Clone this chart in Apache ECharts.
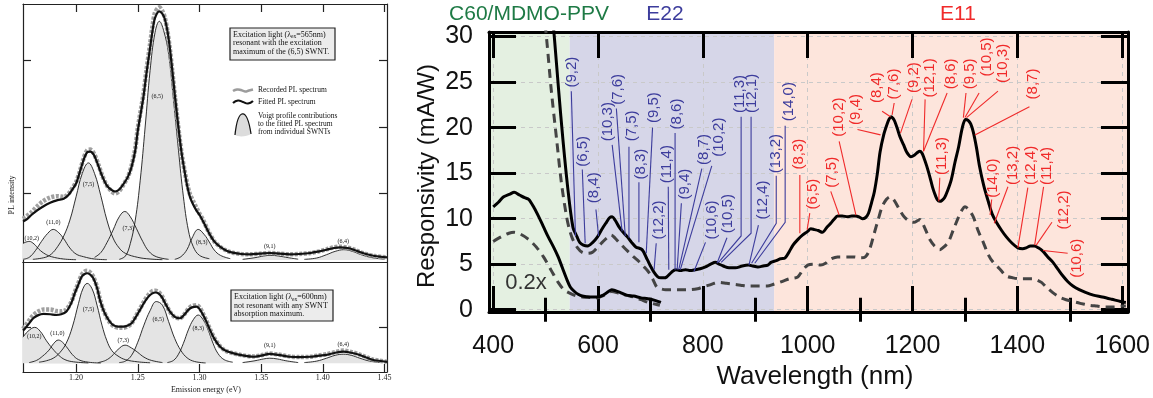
<!DOCTYPE html>
<html><head><meta charset="utf-8">
<script src="https://cdn.jsdelivr.net/npm/echarts@6/dist/echarts.min.js"></script>
<style>html,body{margin:0;padding:0;background:#fff}#c{width:1153px;height:398px}</style>
</head><body><div id="c"></div>
<script>
// ---------------- LEFT PANEL DATA (emission energy eV, PL intensity a.u.) ----------------
const leftTicks = [1.20, 1.25, 1.30, 1.35, 1.40, 1.45];
const compNames = ['(10,2)','(11,0)','(7,5)','(7,3)','(6,5)','(8,3)','(9,1)','(6,4)'];

const fittedTop = [[1.157,0.58],[1.160,0.61],[1.164,0.68],[1.168,0.74],[1.173,0.80],[1.179,0.86],[1.185,0.90],[1.190,0.92],[1.194,0.98],[1.197,1.06],[1.200,1.15],[1.203,1.32],[1.206,1.50],[1.209,1.62],[1.2115,1.63],[1.2145,1.58],[1.218,1.42],[1.221,1.27],[1.225,1.12],[1.229,1.05],[1.2316,1.03],[1.235,1.06],[1.238,1.13],[1.242,1.25],[1.245,1.40],[1.248,1.65],[1.250,1.94],[1.2545,2.44],[1.257,2.80],[1.260,3.19],[1.262,3.45],[1.264,3.64],[1.2675,3.74],[1.270,3.70],[1.272,3.62],[1.274,3.45],[1.276,3.19],[1.278,2.85],[1.280,2.49],[1.282,2.15],[1.284,1.83],[1.286,1.55],[1.288,1.33],[1.290,1.12],[1.2923,0.95],[1.295,0.83],[1.2977,0.74],[1.300,0.68],[1.303,0.58],[1.306,0.47],[1.3085,0.38],[1.312,0.28],[1.3166,0.20],[1.322,0.14],[1.327,0.11],[1.334,0.09],[1.341,0.085],[1.349,0.095],[1.357,0.105],[1.365,0.095],[1.373,0.085],[1.381,0.09],[1.390,0.105],[1.397,0.13],[1.403,0.155],[1.409,0.18],[1.414,0.19],[1.420,0.18],[1.425,0.155],[1.430,0.12],[1.435,0.09],[1.442,0.06],[1.452,0.04]];
const recordedTop = [[1.157,0.62],[1.160,0.66],[1.164,0.72],[1.168,0.80],[1.173,0.88],[1.179,0.94],[1.185,0.96],[1.190,0.95],[1.194,1.0],[1.197,1.08],[1.200,1.17],[1.203,1.33],[1.206,1.52],[1.209,1.65],[1.2115,1.66],[1.2145,1.60],[1.218,1.44],[1.221,1.28],[1.225,1.12],[1.229,1.03],[1.2316,1.00],[1.235,1.04],[1.238,1.12],[1.242,1.25],[1.245,1.42],[1.248,1.68],[1.250,1.98],[1.2545,2.48],[1.257,2.85],[1.260,3.25],[1.262,3.52],[1.264,3.72],[1.2675,3.80],[1.270,3.74],[1.272,3.64],[1.274,3.45],[1.276,3.18],[1.278,2.84],[1.280,2.48],[1.282,2.14],[1.284,1.82],[1.286,1.55],[1.288,1.34],[1.290,1.15],[1.2923,0.99],[1.295,0.88],[1.2977,0.78],[1.300,0.70],[1.303,0.60],[1.306,0.48],[1.3085,0.39],[1.312,0.28],[1.3166,0.20],[1.322,0.14],[1.327,0.11],[1.334,0.09],[1.341,0.085],[1.349,0.095],[1.357,0.105],[1.365,0.095],[1.373,0.085],[1.381,0.09],[1.390,0.105],[1.397,0.13],[1.403,0.16],[1.409,0.19],[1.414,0.20],[1.420,0.185],[1.425,0.16],[1.430,0.12],[1.435,0.09],[1.442,0.06],[1.452,0.04]];

const c102Top = [[1.157,0.25],[1.162,0.28],[1.166,0.24],[1.170,0.16],[1.175,0.09],[1.180,0.05],[1.190,0.015],[1.200,0.005]];
const c110Top = [[1.157,0.01],[1.162,0.04],[1.167,0.14],[1.172,0.28],[1.177,0.40],[1.1815,0.46],[1.186,0.41],[1.190,0.32],[1.195,0.18],[1.200,0.09],[1.206,0.05],[1.215,0.015],[1.225,0.005]];
const c75Top = [[1.165,0.01],[1.175,0.04],[1.180,0.09],[1.185,0.2],[1.190,0.36],[1.195,0.6],[1.200,0.95],[1.205,1.3],[1.210,1.46],[1.215,1.3],[1.220,0.97],[1.225,0.6],[1.230,0.33],[1.235,0.18],[1.240,0.1],[1.250,0.04],[1.260,0.015],[1.270,0.005]];
const c73Top = [[1.215,0.04],[1.220,0.11],[1.225,0.26],[1.230,0.45],[1.235,0.65],[1.2395,0.73],[1.244,0.65],[1.249,0.47],[1.254,0.28],[1.259,0.13],[1.265,0.05],[1.275,0.01]];
const c65Top = [[1.235,0.01],[1.240,0.06],[1.244,0.25],[1.248,0.6],[1.252,1.2],[1.256,2.0],[1.260,2.85],[1.264,3.42],[1.2675,3.59],[1.271,3.45],[1.275,3.1],[1.279,2.4],[1.283,1.65],[1.287,0.95],[1.291,0.45],[1.295,0.2],[1.300,0.07],[1.308,0.02]];
const c83Top = [[1.280,0.01],[1.285,0.05],[1.290,0.16],[1.294,0.33],[1.299,0.46],[1.304,0.38],[1.308,0.27],[1.312,0.15],[1.317,0.07],[1.325,0.02]];
const c91Top = [[1.335,0.01],[1.345,0.035],[1.352,0.06],[1.358,0.07],[1.364,0.06],[1.372,0.035],[1.380,0.012]];
const c64Top = [[1.385,0.01],[1.395,0.03],[1.403,0.08],[1.410,0.13],[1.417,0.155],[1.424,0.13],[1.431,0.08],[1.440,0.035],[1.450,0.012]];

const fittedBottom = [[1.157,0.90],[1.1586,0.96],[1.162,1.10],[1.1653,1.24],[1.169,1.32],[1.1735,1.36],[1.179,1.35],[1.184,1.33],[1.188,1.35],[1.192,1.42],[1.196,1.65],[1.199,1.93],[1.202,2.18],[1.2046,2.39],[1.207,2.46],[1.209,2.48],[1.2115,2.44],[1.214,2.34],[1.217,2.08],[1.2194,1.74],[1.222,1.48],[1.2248,1.28],[1.2275,1.14],[1.2302,1.05],[1.234,1.01],[1.2383,1.01],[1.242,1.04],[1.245,1.10],[1.248,1.25],[1.2518,1.47],[1.255,1.66],[1.2585,1.83],[1.2615,1.92],[1.2645,1.95],[1.267,1.92],[1.2694,1.83],[1.272,1.67],[1.2761,1.42],[1.280,1.28],[1.2842,1.24],[1.288,1.35],[1.291,1.47],[1.294,1.54],[1.2978,1.56],[1.300,1.50],[1.303,1.33],[1.306,1.12],[1.3085,0.92],[1.312,0.68],[1.3166,0.46],[1.321,0.35],[1.327,0.28],[1.335,0.22],[1.3436,0.18],[1.350,0.21],[1.357,0.26],[1.364,0.23],[1.373,0.18],[1.381,0.17],[1.390,0.18],[1.397,0.21],[1.403,0.23],[1.410,0.29],[1.4166,0.32],[1.423,0.29],[1.430,0.23],[1.436,0.15],[1.441,0.09],[1.452,0.04]];
const recordedBottom = [[1.157,0.95],[1.1586,1.02],[1.162,1.18],[1.1653,1.32],[1.169,1.42],[1.1735,1.48],[1.179,1.48],[1.184,1.44],[1.188,1.43],[1.192,1.48],[1.196,1.68],[1.199,1.96],[1.202,2.22],[1.2046,2.44],[1.207,2.53],[1.209,2.55],[1.2115,2.50],[1.214,2.38],[1.217,2.10],[1.2194,1.76],[1.222,1.48],[1.2248,1.27],[1.2275,1.12],[1.2302,1.03],[1.234,0.98],[1.2383,0.98],[1.242,1.02],[1.245,1.10],[1.248,1.27],[1.2518,1.50],[1.255,1.70],[1.2585,1.88],[1.2615,1.98],[1.2645,2.00],[1.267,1.96],[1.2694,1.86],[1.272,1.68],[1.2761,1.42],[1.280,1.27],[1.2842,1.24],[1.288,1.36],[1.291,1.50],[1.294,1.58],[1.2978,1.60],[1.300,1.54],[1.303,1.36],[1.306,1.14],[1.3085,0.94],[1.312,0.70],[1.3166,0.47],[1.321,0.35],[1.327,0.28],[1.335,0.22],[1.3436,0.19],[1.350,0.22],[1.357,0.27],[1.364,0.24],[1.373,0.19],[1.381,0.17],[1.390,0.18],[1.397,0.22],[1.403,0.25],[1.410,0.31],[1.4166,0.35],[1.423,0.31],[1.430,0.24],[1.436,0.16],[1.441,0.10],[1.452,0.04]];

const c102Bot = [[1.157,0.72],[1.161,0.88],[1.1665,0.99],[1.171,0.88],[1.176,0.62],[1.181,0.4],[1.186,0.22],[1.191,0.1],[1.198,0.04],[1.210,0.01]];
const c110Bot = [[1.162,0.02],[1.168,0.08],[1.173,0.2],[1.178,0.36],[1.182,0.55],[1.1856,0.64],[1.189,0.58],[1.193,0.42],[1.197,0.24],[1.202,0.1],[1.210,0.03],[1.220,0.008]];
const c75Bot = [[1.170,0.03],[1.176,0.07],[1.182,0.15],[1.187,0.3],[1.192,0.55],[1.197,1.0],[1.202,1.65],[1.2055,2.05],[1.209,2.2],[1.213,2.05],[1.217,1.6],[1.221,1.05],[1.225,0.62],[1.229,0.35],[1.234,0.2],[1.240,0.1],[1.250,0.04],[1.260,0.015]];
const c73Bot = [[1.218,0.02],[1.224,0.08],[1.229,0.2],[1.234,0.38],[1.2397,0.5],[1.245,0.42],[1.250,0.3],[1.255,0.17],[1.261,0.08],[1.270,0.02]];
const c65Bot = [[1.235,0.02],[1.240,0.06],[1.245,0.22],[1.250,0.58],[1.255,1.05],[1.260,1.45],[1.265,1.7],[1.270,1.6],[1.275,1.15],[1.280,0.68],[1.285,0.35],[1.290,0.15],[1.296,0.05],[1.305,0.01]];
const c83Bot = [[1.274,0.02],[1.279,0.08],[1.283,0.25],[1.287,0.55],[1.291,0.92],[1.295,1.2],[1.299,1.33],[1.303,1.2],[1.307,0.92],[1.311,0.55],[1.315,0.27],[1.320,0.1],[1.327,0.03]];
const c91Bot = [[1.335,0.02],[1.345,0.07],[1.352,0.12],[1.357,0.14],[1.363,0.12],[1.370,0.07],[1.380,0.02]];
const c64Bot = [[1.385,0.02],[1.395,0.06],[1.403,0.14],[1.410,0.22],[1.4166,0.25],[1.423,0.22],[1.430,0.14],[1.438,0.06],[1.448,0.02]];

const topLabelPos = [[1.164,0.33],[1.1816,0.56],[1.210,1.13],[1.2423,0.47],[1.2658,2.46],[1.3018,0.26],[1.357,0.21],[1.4166,0.28]];
const bottomLabelPos = [[1.1662,0.73],[1.1848,0.81],[1.210,1.49],[1.2383,0.64],[1.2666,1.21],[1.299,0.95],[1.357,0.50],[1.4166,0.53]];

// ---------------- RIGHT PANEL DATA (wavelength nm, responsivity mA/W) ----------------
const rightXLabels = [400, 600, 800, 1000, 1200, 1400, 1600];
const rightXMinorTicks = [500, 700, 900, 1100, 1300, 1500];
const rightYTicks = [0, 5, 10, 15, 20, 25, 30];
const regions = [[392, 546], [546, 936], [936, 1611]];

const solidMain = [[512,33],[517,29.7],[525,24],[533,18.7],[542,13.5],[552,9.1],[560,8.0],[565,7.4],[572,7.1],[580,7.0],[590,7.4],[599,8.0],[608,8.9],[616,9.6],[622,10.1],[627,10.2],[633,9.8],[640,9.1],[648,8.5],[656,8.0],[664,7.4],[672,6.9],[684,6.6],[694,5.5],[700,4.8],[707,4.1],[714,3.6],[720,3.5],[726,3.5],[731,3.6],[740,4.1],[748,4.4],[757,4.3],[767,4.4],[776,4.3],[786,4.4],[795,4.5],[805,4.7],[815,5.0],[824,5.2],[831,5.0],[839,4.8],[850,4.6],[862,4.6],[875,4.8],[887,4.9],[895,4.8],[905,4.7],[915,4.8],[924,4.9],[930,5.2],[940,5.4],[948,5.6],[957,5.7],[965,6.4],[972,7.1],[981,7.7],[990,8.2],[1000,8.6],[1006,8.9],[1013,8.8],[1020,8.7],[1028,8.5],[1036,9.0],[1044,9.5],[1050,9.9],[1057,10.3],[1066,10.3],[1076,10.2],[1084,10.3],[1091,10.3],[1098,10.2],[1104,10.0],[1110,10.1],[1116,10.6],[1122,11.8],[1127,12.9],[1133,15.0],[1138,17.3],[1145,19.2],[1151,20.3],[1155,20.9],[1159,21.2],[1163,21.0],[1166,20.7],[1171,19.9],[1176,19.0],[1183,18.1],[1189,17.3],[1197,16.8],[1204,17.0],[1210,17.3],[1214,17.4],[1218,17.2],[1221,16.8],[1227,15.8],[1233,14.6],[1238,13.5],[1242,12.8],[1247,12.1],[1252,11.9],[1256,12.0],[1261,12.3],[1267,13.1],[1274,14.3],[1281,16.2],[1288,17.9],[1295,20.0],[1301,20.9],[1306,20.8],[1311,20.4],[1316,19.5],[1322,17.8],[1328,15.7],[1336,13.6],[1345,11.8],[1352,10.5],[1360,9.6],[1370,8.7],[1379,8.0],[1390,7.3],[1401,6.8],[1410,6.7],[1417,6.8],[1425,7.0],[1432,7.0],[1440,6.8],[1449,6.4],[1458,5.8],[1468,5.2],[1478,4.4],[1487,3.7],[1496,3.1],[1506,2.6],[1518,2.2],[1530,1.9],[1545,1.6],[1562,1.4],[1580,1.15],[1597,0.9],[1607,0.8]];
const dashedMain = [[496,33],[502,29.7],[511,24],[521,18.7],[530,14],[540,10.2],[546,8.7],[552,7.7],[561,6.8],[570,6.3],[580,6.2],[589,6.3],[598,6.8],[608,7.4],[617,7.9],[625,8.2],[632,7.9],[640,7.4],[650,6.8],[659,6.3],[668,5.8],[678,5.3],[688,4.7],[697,4.1],[705,3.3],[712,2.5],[720,2.3],[729,2.2],[740,2.2],[755,2.2],[775,2.2],[790,2.3],[800,2.5],[812,2.7],[822,2.9],[831,3.0],[845,2.9],[858,2.8],[872,2.7],[886,2.6],[905,2.6],[923,2.6],[935,2.8],[951,3.1],[965,3.4],[981,3.6],[990,4.3],[1000,4.9],[1012,5.0],[1025,4.9],[1034,5.1],[1042,5.5],[1057,5.8],[1075,5.8],[1089,5.8],[1100,5.7],[1110,5.8],[1118,6.6],[1127,8.4],[1135,10.0],[1142,11.3],[1150,12.1],[1157,12.4],[1165,12.0],[1175,11.0],[1184,10.2],[1195,9.7],[1203,9.6],[1210,9.8],[1214,9.9],[1220,9.4],[1227,8.5],[1233,7.7],[1242,7.0],[1252,6.6],[1260,6.9],[1269,7.5],[1278,8.8],[1288,10.2],[1295,11.0],[1300,11.3],[1307,11.0],[1316,10.2],[1325,8.7],[1335,7.4],[1345,6.0],[1354,5.2],[1366,4.5],[1379,3.7],[1392,3.5],[1405,3.4],[1417,3.4],[1428,3.4],[1436,3.3],[1446,3.0],[1455,2.5],[1467,1.9],[1480,1.4],[1493,1.1],[1506,0.9],[1520,0.7],[1536,0.5],[1552,0.4],[1568,0.3],[1585,0.3],[1600,0.4],[1607,0.4]];
const solidScaled = [[400,11.3],[410,11.8],[420,12.4],[432,12.7],[440,12.9],[450,12.6],[460,12.3],[468,12.1],[478,11.2],[487,10.2],[496,9.1],[505,8.0],[515,6.9],[524,5.8],[532,4.6],[540,3.4],[547,2.5],[555,2.0],[562,1.7],[570,1.5],[585,1.4],[598,1.4],[610,1.6],[620,2.0],[626,2.2],[633,2.1],[642,1.9],[654,1.6],[668,1.5],[682,1.3],[695,1.2],[710,1.0],[720,0.8]];
const dashedScaled = [[400,7.5],[415,8.0],[430,8.4],[440,8.5],[452,8.3],[468,7.7],[482,6.9],[496,5.8],[510,4.4],[524,3.0],[535,2.2],[547,1.8],[560,1.5],[570,1.4],[585,1.35],[598,1.3],[612,1.6],[626,2.0],[640,1.8],[654,1.6],[668,1.4],[682,1.1],[696,0.8],[710,0.6],[718,0.5]];

const e22Names = ['(9,2)','(6,5)','(8,4)','(10,3)','(7,6)','(7,5)','(8,3)','(9,5)','(12,2)','(11,4)','(8,6)','(9,4)','(8,7)','(10,2)','(10,6)','(10,5)','(11,3)','(12,1)','(12,4)','(13,2)','(14,0)'];
const e22Text = [[551,24.4],[571,15.7],[593,11.7],[618,18.5],[637,22.5],[664,18.5],[681,14.3],[706,20.5],[716,7.7],[732,13.9],[751,19.8],[766,12.1],[801,15.9],[830,16.8],[817,7.7],[848,8.4],[871,21.6],[893,21.6],[915,9.9],[940,15.0],[965,20.7]];
const e22Lines = [
  [[549,24.0],[557,8.1]], [[570,15.4],[575.5,7.3]], [[596,11.0],[601,8.1]], [[627,18.1],[646,8.6]],
  [[635,22.1],[652,8.1]], [[659,17.9],[659,7.9]], [[678,14.0],[678,7.4]], [[704,20.0],[692,6.2]],
  [[711,7.3],[707,4.4]], [[734,13.5],[735,4.4]], [[747,19.4],[747,4.4]], [[759,11.7],[751,4.4]],
  [[798,15.5],[754,4.4]], [[817,15.8],[757,4.4]], [[805,7.4],[783,4.2]], [[846,7.9],[827,5.1]],
  [[873,21.2],[873,8.1],[830,5.2]], [[892,21.2],[892,8.4],[835,5.2]], [[906,9.3],[888,4.9]],
  [[940,14.7],[940,9.5],[893,5.1]], [[957,20.2],[957,9.6],[899,5.1]]
];
const e11Names = ['(8,3)','(6,5)','(7,5)','(10,2)','(9,4)','(8,4)','(7,6)','(9,2)','(12,1)','(8,6)','(9,5)','(10,5)','(10,3)','(8,7)','(11,3)','(14,0)','(13,2)','(12,4)','(11,4)','(12,2)','(10,6)'];
const e11Text = [[984,15.4],[1009,11.0],[1047,13.4],[1060,19.0],[1091,20.3],[1132,22.7],[1164,23.1],[1202,23.8],[1233,23.3],[1274,24.2],[1309,24.2],[1341,25.6],[1372,24.9],[1429,23.1],[1256,14.8],[1353,12.3],[1391,13.7],[1426,13.7],[1457,13.7],[1489,8.8],[1514,3.5]];
const e11Lines = [
  [[985,14.8],[985,8.4]], [[1004,10.6],[999,8.8]], [[1044,13.0],[1060,10.4]], [[1060,18.5],[1092,10.4]],
  [[1095,19.8],[1139,19.2]], [[1142,21.8],[1158,21.2]], [[1165,22.7],[1161,21.4]], [[1199,23.1],[1177,19.4]],
  [[1224,23.1],[1221,17.4]], [[1266,23.8],[1221,17.4]], [[1302,23.8],[1297,21.1]], [[1327,23.8],[1300,21.1]],
  [[1363,24.0],[1303,21.1]], [[1423,22.3],[1319,19.2]], [[1252,14.5],[1250,11.9]], [[1351,12.1],[1348,10.4]],
  [[1382,13.5],[1356,9.5]], [[1420,13.4],[1401,6.8]], [[1450,13.5],[1433,7.1]], [[1466,9.6],[1436,7.1]],
  [[1496,6.2],[1449,6.5]]
];

// ---------------- BUILD ----------------
const SERIF = 'Liberation Serif', SANS = 'Liberation Sans';
const LC = '#222';
const chart = echarts.init(document.getElementById('c'), null, {renderer: 'canvas'});

function frameAxis(grid, pos, min, max, ticks, extra) {
  return Object.assign({
    type: 'value', gridIndex: grid, position: pos, min: min, max: max,
    axisLine: {show: true, onZero: false, lineStyle: {color: LC, width: 1.2}},
    axisTick: ticks ? {show: true, inside: true, length: 8, customValues: ticks, lineStyle: {color: LC, width: 1.2}} : {show: false},
    axisLabel: {show: false}, splitLine: {show: false}
  }, extra || {});
}
function rightAxis(pos, min, max, ticks, len, extra) {
  return Object.assign({
    type: 'value', gridIndex: 2, position: pos, min: min, max: max,
    axisLine: {show: true, onZero: false, lineStyle: {color: '#000', width: 3}},
    axisTick: {show: true, inside: true, length: len, customValues: ticks, lineStyle: {color: '#000', width: 3}},
    axisLabel: {show: false}, splitLine: {show: false}
  }, extra || {});
}

const xAxis = [
  frameAxis(0, 'bottom', 1.157, 1.452, null),
  frameAxis(0, 'top', 1.157, 1.452, leftTicks),
  frameAxis(1, 'bottom', 1.157, 1.452, leftTicks, {axisLabel: {show: true, customValues: leftTicks, formatter: v => v.toFixed(2), fontFamily: SERIF, fontSize: 8, color: LC, margin: 2}}),
  frameAxis(1, 'top', 1.157, 1.452, null),
  rightAxis('bottom', 392, 1611, rightXLabels, 26, {splitNumber: 12,
    axisLabel: {show: true, customValues: rightXLabels, formatter: v => String(v), fontFamily: SANS, fontSize: 25, color: '#111', margin: 22},
    splitLine: {show: true, lineStyle: {color: '#c9c9c9', width: 1, type: [4, 4]}}}),
  rightAxis('top', 392, 1611, rightXLabels, 26),
  rightAxis('bottom', 392, 1611, rightXMinorTicks, 12, {axisLine: {show: false}}),
  rightAxis('top', 392, 1611, rightXMinorTicks, 12, {axisLine: {show: false}})
];
const yAxis = [
  frameAxis(0, 'left', -0.03, 3.85, [1, 2, 3]),
  frameAxis(0, 'right', -0.03, 3.85, [1, 2, 3]),
  frameAxis(1, 'left', -0.24, 2.79, [1]),
  frameAxis(1, 'right', -0.24, 2.79, [1]),
  rightAxis('left', -0.25, 30.5, rightYTicks, 27, {splitNumber: 6,
    axisLabel: {show: true, customValues: rightYTicks, fontFamily: SANS, fontSize: 25, color: '#111', margin: 16},
    splitLine: {show: true, lineStyle: {color: '#c9c9c9', width: 1, type: [4, 4]}}}),
  rightAxis('right', -0.25, 30.5, rightYTicks, 27)
];

const series = [];
const lineBase = {type: 'line', showSymbol: false, symbol: 'none', animation: false, silent: true};

function addPanel(xi, yi, comps, recorded, fitted, labelPos) {
  comps.forEach(function (c) {
    series.push(Object.assign({}, lineBase, {xAxisIndex: xi, yAxisIndex: yi, data: c, smooth: 0.4, z: 2,
      lineStyle: {color: '#1a1a1a', width: 0.9},
      areaStyle: {color: '#e4e4e4', opacity: 1}}));
  });
  series.push(Object.assign({}, lineBase, {xAxisIndex: xi, yAxisIndex: yi, data: recorded, smooth: 0.3, z: 3,
    lineStyle: {color: '#a0a0a0', width: 4.5, type: [3, 1.5]}}));
  series.push(Object.assign({}, lineBase, {xAxisIndex: xi, yAxisIndex: yi, data: fitted, smooth: 0.3, z: 4,
    lineStyle: {color: '#111', width: 2.2}}));
  series.push({type: 'custom', xAxisIndex: xi, yAxisIndex: yi, data: labelPos, z: 6, silent: true, animation: false,
    renderItem: function (params, api) {
      const p = api.coord(labelPos[params.dataIndex]);
      return {type: 'text', x: p[0], y: p[1], style: {text: compNames[params.dataIndex], fill: '#111',
        fontFamily: SERIF, fontSize: 6, align: 'center', verticalAlign: 'middle'}};
    }});
}
addPanel(0, 0, [c102Top, c110Top, c75Top, c73Top, c65Top, c83Top, c91Top, c64Top], recordedTop, fittedTop, topLabelPos);
addPanel(2, 2, [c102Bot, c110Bot, c75Bot, c73Bot, c65Bot, c83Bot, c91Bot, c64Bot], recordedBottom, fittedBottom, bottomLabelPos);

// background spectral regions
const regionColors = ['#e4f0e1', '#d6d6e8', '#fde5dc'];
series.push({type: 'custom', xAxisIndex: 4, yAxisIndex: 4, data: regions, z: -1, silent: true, animation: false,
  renderItem: function (params, api) {
    const r = regions[params.dataIndex];
    const a = api.coord([r[0], 30.5]), b = api.coord([r[1], -0.25]);
    return {type: 'rect', shape: {x: a[0], y: a[1], width: b[0] - a[0], height: b[1] - a[1]},
      style: {fill: regionColors[params.dataIndex]}};
  }});

series.push(Object.assign({}, lineBase, {xAxisIndex: 4, yAxisIndex: 4, data: dashedMain, smooth: 0.3, z: 3,
  lineStyle: {color: '#444', width: 3, type: [9, 6]}}));
series.push(Object.assign({}, lineBase, {xAxisIndex: 4, yAxisIndex: 4, data: dashedScaled, smooth: 0.3, z: 3,
  lineStyle: {color: '#444', width: 3, type: [9, 6]}}));
series.push(Object.assign({}, lineBase, {xAxisIndex: 4, yAxisIndex: 4, data: solidMain, smooth: 0.3, z: 4,
  lineStyle: {color: '#000', width: 3}}));
series.push(Object.assign({}, lineBase, {xAxisIndex: 4, yAxisIndex: 4, data: solidScaled, smooth: 0.3, z: 4,
  lineStyle: {color: '#000', width: 3}}));

function labelSeries(names, anchors, lines, color) {
  return {type: 'custom', xAxisIndex: 4, yAxisIndex: 4, data: anchors, z: 5, silent: true, animation: false,
    renderItem: function (params, api) {
      const i = params.dataIndex;
      const p = api.coord(anchors[i]);
      const pts = lines[i].map(q => api.coord(q));
      return {type: 'group', children: [
        {type: 'polyline', shape: {points: pts}, style: {stroke: color, lineWidth: 1.1, fill: null}},
        {type: 'text', x: p[0], y: p[1], rotation: Math.PI / 2,
          style: {text: names[i], fill: color, fontFamily: SANS, fontSize: 15, align: 'left', verticalAlign: 'middle'}}
      ]};
    }};
}
series.push(labelSeries(e22Names, e22Text, e22Lines, '#3c3c9c'));
series.push(labelSeries(e11Names, e11Text, e11Lines, '#f02a2a'));

function t(x, y, text, size, fill, family, extra) {
  return Object.assign({type: 'text', x: x, y: y, silent: true,
    style: Object.assign({text: text, fontSize: size, fill: fill, fontFamily: family, align: 'center', verticalAlign: 'middle'}, (extra && extra.style) || {})},
    extra && extra.rotation ? {rotation: extra.rotation} : {});
}
const subRich = {s: {fontSize: 5.5, fontFamily: SERIF, fill: '#111', padding: [4, 0, 0, 0]}};
const leftStyle = {align: 'left'};
const graphic = [
  // right panel texts
  t(529, 14, 'C60/MDMO-PPV', 21, '#1e7a45', SANS),
  t(665, 14, 'E22', 21, '#3c3c9c', SANS),
  t(958, 14, 'E11', 21, '#f02a2a', SANS),
  t(526, 283, '0.2x', 22, '#333', SANS),
  t(427, 176, 'Responsivity (mA/W)', 24, '#111', SANS, {rotation: Math.PI / 2}),
  t(815, 377, 'Wavelength (nm)', 26, '#111', SANS),
  // left panel texts
  t(11.5, 195, 'PL intensity', 8, '#222', SERIF, {rotation: Math.PI / 2}),
  t(206, 390, 'Emission energy (eV)', 8, '#222', SERIF),
  {type: 'rect', shape: {x: 230, y: 28, width: 105, height: 32}, style: {fill: '#ececec', stroke: '#222', lineWidth: 1.2}, silent: true},
  {type: 'text', x: 233, y: 35, style: {text: 'Excitation light (λ{s|ex}=565nm)', rich: subRich, fontSize: 8, fontFamily: SERIF, fill: '#111', align: 'left', verticalAlign: 'middle'}},
  t(233, 43.3, 'resonant with the excitation', 8, '#111', SERIF, {style: leftStyle}),
  t(233, 51.7, 'maximum of the (6,5) SWNT.', 8, '#111', SERIF, {style: leftStyle}),
  {type: 'polyline', shape: {points: [[233, 91], [237, 89.5], [241, 90], [245, 91.5], [249, 90.5], [253, 89.5]], smooth: 0.5}, style: {stroke: '#9c9c9c', lineWidth: 2.5, fill: null}, silent: true},
  t(258, 90, 'Recorded PL spectrum', 7.5, '#111', SERIF, {style: leftStyle}),
  {type: 'polyline', shape: {points: [[233, 103], [238, 100.5], [243, 102], [248, 103.5], [253, 101]], smooth: 0.5}, style: {stroke: '#111', lineWidth: 2.2, fill: null}, silent: true},
  t(258, 102, 'Fitted PL spectrum', 7.5, '#111', SERIF, {style: leftStyle}),
  {type: 'polygon', shape: {points: [[235, 135], [237, 124], [240, 115], [243, 113], [246, 116], [249, 125], [251, 134]], smooth: 0.4}, style: {fill: '#dcdcdc', stroke: null}, silent: true},
  {type: 'bezierCurve', shape: {x1: 235, y1: 135, cpx1: 238, cpy1: 107, cpx2: 247, cpy2: 107, x2: 251, y2: 134}, style: {fill: null, stroke: '#111', lineWidth: 1.2}, silent: true},
  t(258, 116, 'Voigt profile contributions', 7.5, '#111', SERIF, {style: leftStyle}),
  t(258, 124, 'to the fitted PL spectrum', 7.5, '#111', SERIF, {style: leftStyle}),
  t(258, 131.7, 'from individual SWNTs', 7.5, '#111', SERIF, {style: leftStyle}),
  {type: 'rect', shape: {x: 231, y: 290, width: 102, height: 31}, style: {fill: '#ececec', stroke: '#222', lineWidth: 1.2}, silent: true},
  {type: 'text', x: 234, y: 297.3, style: {text: 'Excitation light (λ{s|ex}=600nm)', rich: subRich, fontSize: 8, fontFamily: SERIF, fill: '#111', align: 'left', verticalAlign: 'middle'}},
  t(234, 305.7, 'not resonant with any SWNT', 8, '#111', SERIF, {style: leftStyle}),
  t(234, 314, 'absorption maximum.', 8, '#111', SERIF, {style: leftStyle})
];

chart.setOption({
  animation: false,
  backgroundColor: '#fff',
  grid: [
    {left: 23, top: 4, width: 364, height: 258},
    {left: 23, top: 262, width: 364, height: 110},
    {left: 489, top: 32, width: 644, height: 280}
  ],
  xAxis: xAxis, yAxis: yAxis, series: series, graphic: graphic
});
</script></body></html>
